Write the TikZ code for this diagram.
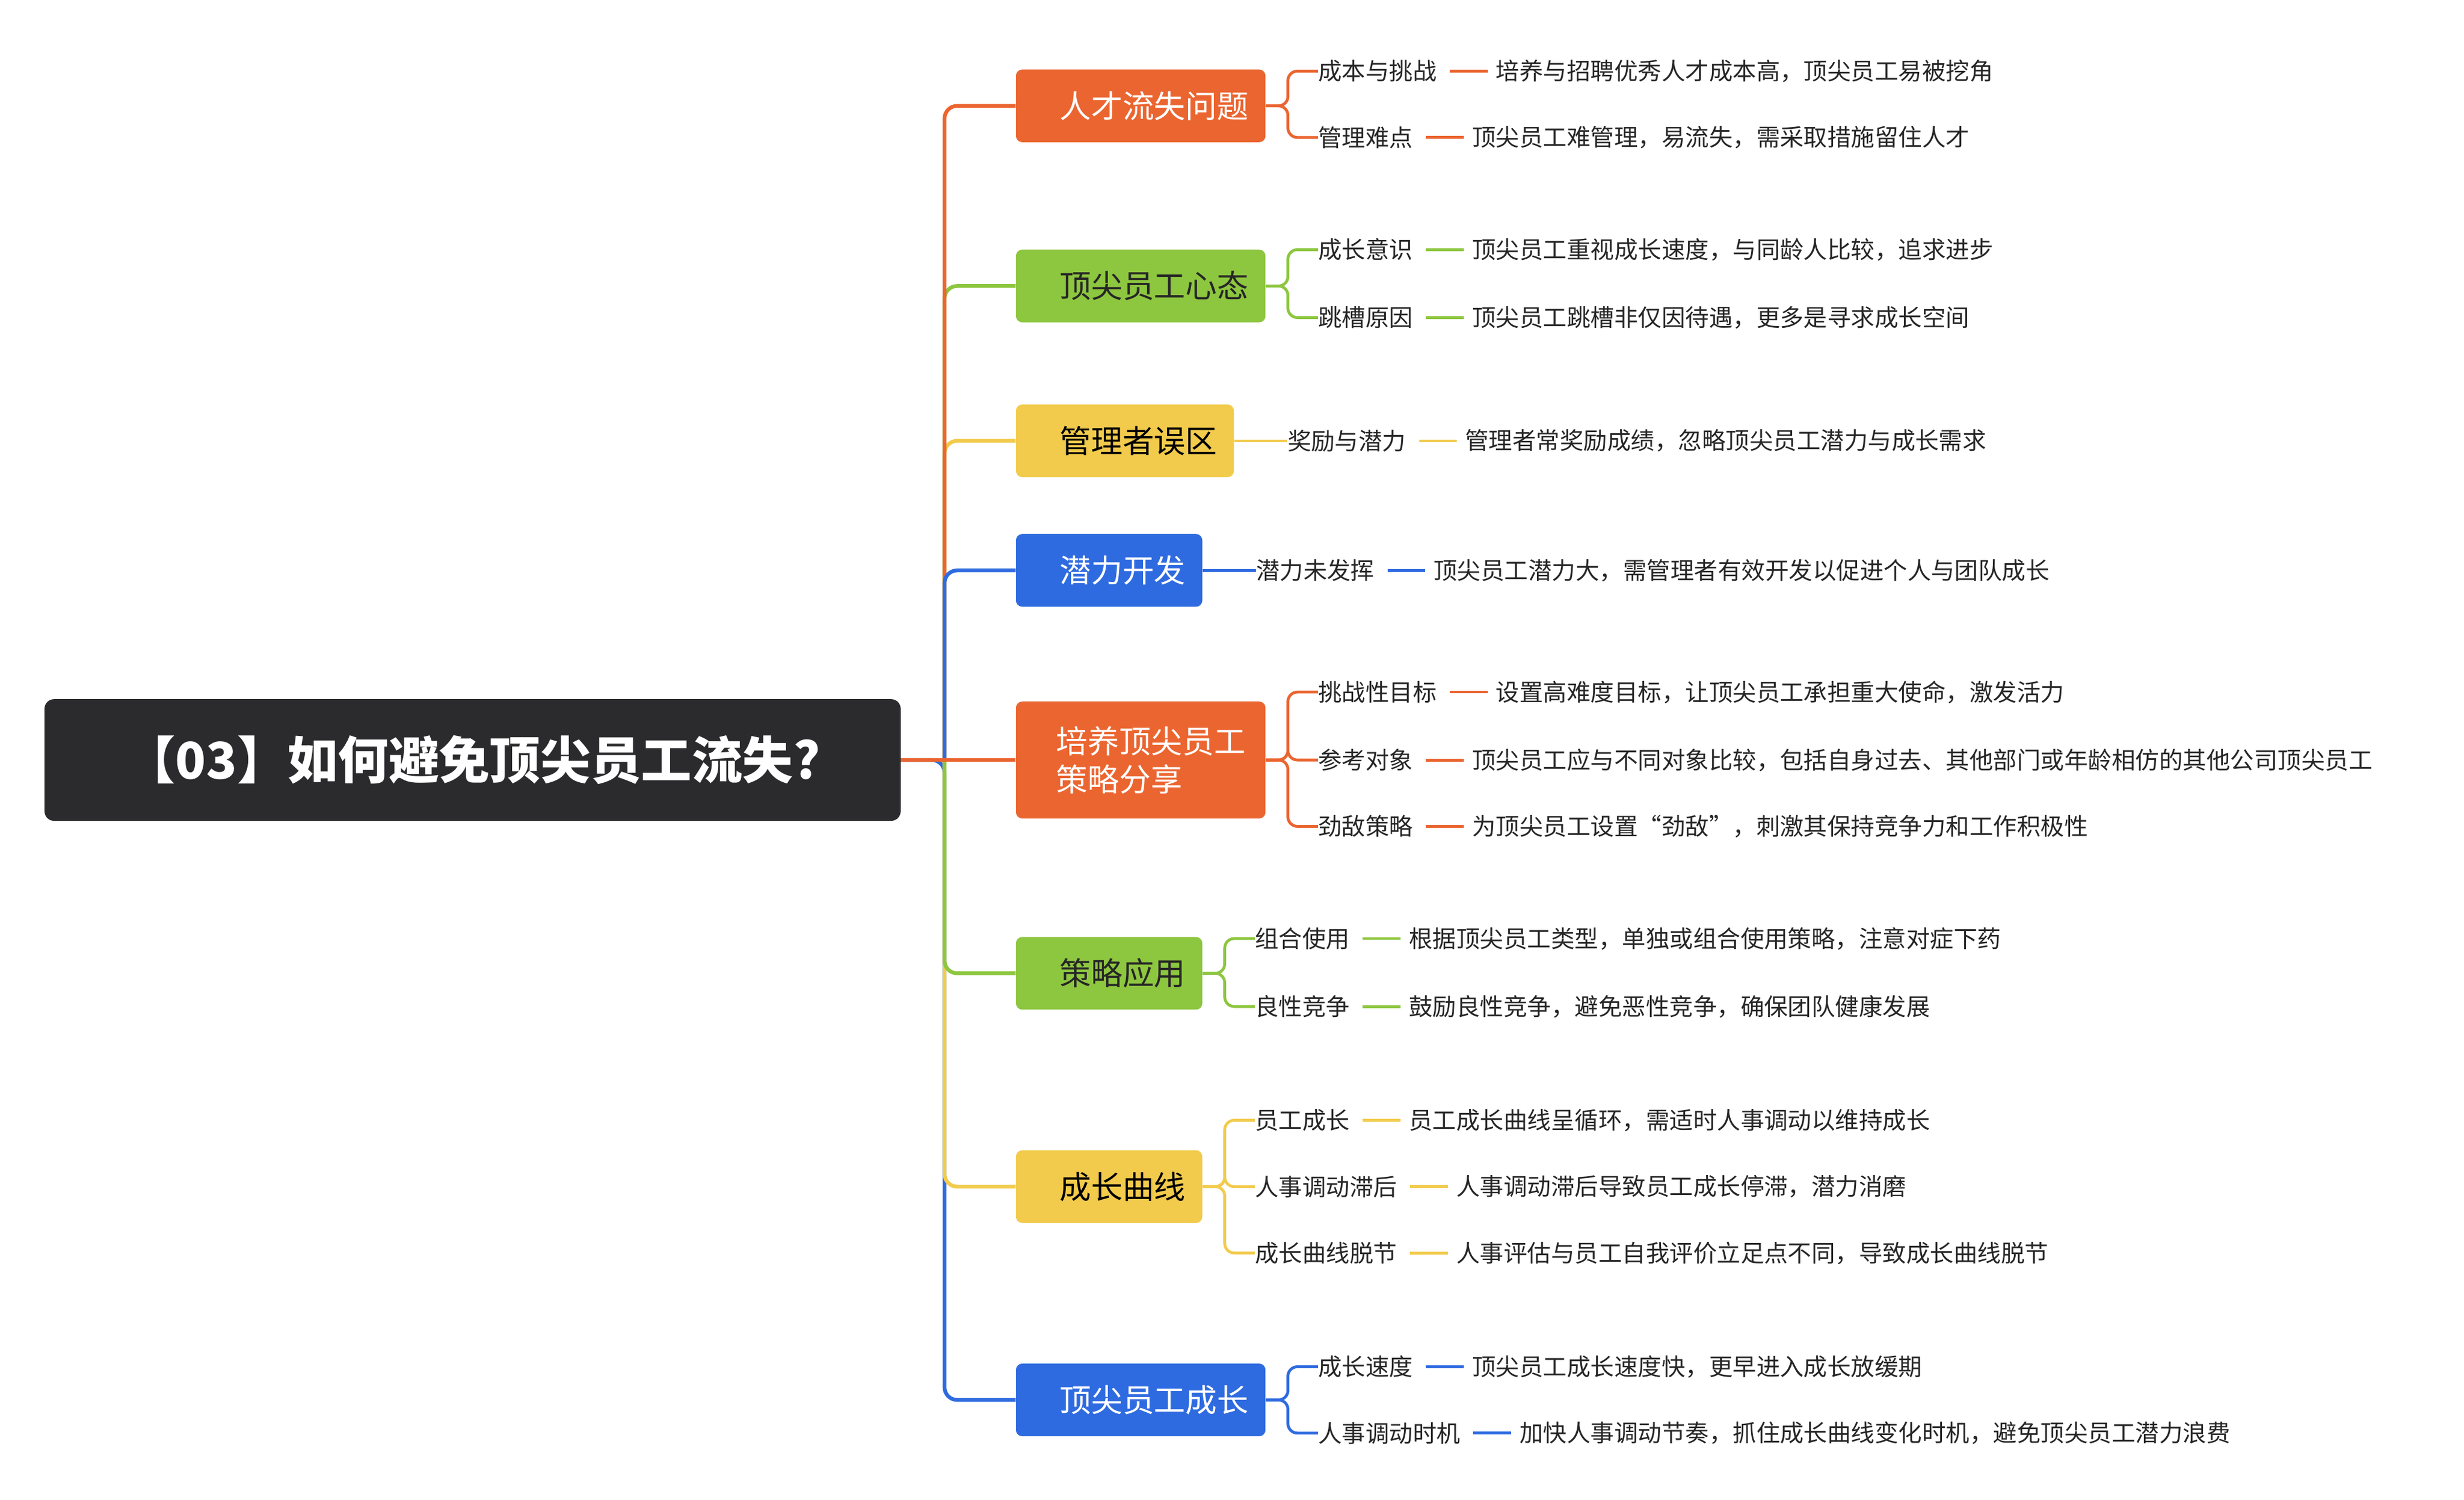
\documentclass[tikz,border=0pt]{standalone}
\usepackage{fontspec}
\newfontfamily\cjk{Noto Sans CJK SC}
\definecolor{cor}{HTML}{EB6530}
\definecolor{cgr}{HTML}{8DC63F}
\definecolor{cye}{HTML}{F2CB4C}
\definecolor{cbl}{HTML}{2F6BE0}
\definecolor{cdk}{HTML}{2B2B2E}
\tikzset{
  mbox/.style={rounded corners=4pt,inner sep=0pt,anchor=west,minimum height=46pt,font=\cjk\fontsize{20}{24}\selectfont,text=white,align=left},
  lbl/.style={anchor=west,inner sep=0pt,font=\cjk\fontsize{15}{18}\selectfont,text=black!85},
  wire/.style={line width=2.4pt,rounded corners=8pt},
  swire/.style={line width=1.8pt,rounded corners=6pt}
}
\newcommand{\mmsub}[6]{% name, parent, y, label, desc, color
  \path (#2.east) ++(33,0) coordinate (#1s);
  \node[lbl] (#1) at (#1s |- 0,#3) {#4};
  \draw[swire,#6] (#2.east) -- ++(14,0) |- (#1.west);
  \node[lbl] (#1d) at ([xshift=37]#1.east) {#5};
  \draw[swire,#6,rounded corners=0pt] ([xshift=8]#1.east) -- ([xshift=-5]#1d.west);
}
\begin{document}
\begin{tikzpicture}[x=1pt,y=-1pt]
\useasboundingbox (0,0) rectangle (1560,949);
\node[fill=cdk,rounded corners=6pt,minimum width=542pt,minimum height=77pt,anchor=west,text=white,font=\cjk\bfseries\fontsize{32}{36}\selectfont] (root) at (28,481) {【03】如何避免顶尖员工流失?};
\coordinate (tr) at (598,481);
% boxes
\node[mbox,fill=cor,minimum width=158pt] (b1) at (643,67) {\hspace{17pt}人才流失问题};
\node[mbox,fill=cgr,minimum width=158pt,text=black!85] (b2) at (643,181) {\hspace{17pt}顶尖员工心态};
\node[mbox,fill=cye,minimum width=138pt,text=black] (b3) at (643,279) {\hspace{17pt}管理者误区};
\node[mbox,fill=cbl,minimum width=118pt] (b4) at (643,361) {\hspace{17pt}潜力开发};
\node[mbox,fill=cor,minimum width=158pt,minimum height=74pt,text width=141pt,inner xsep=0pt,align=left] (b5) at (643,481) {\hspace*{17pt}培养顶尖员工\\\hspace*{17pt}策略分享};
\node[mbox,fill=cgr,minimum width=118pt,text=black!85] (b6) at (643,616) {\hspace{17pt}策略应用};
\node[mbox,fill=cye,minimum width=118pt,text=black] (b7) at (643,751) {\hspace{17pt}成长曲线};
\node[mbox,fill=cbl,minimum width=158pt] (b8) at (643,886) {\hspace{17pt}顶尖员工成长};
% trunk
\draw[wire,cbl] (root.east) -- (tr) |- (b8.west);
\draw[wire,cye] (tr) |- (b7.west);
\draw[wire,cgr] (tr) |- (b6.west);
\draw[wire,cye] (tr) |- (b3.west);
\draw[wire,cgr] (tr) |- (b2.west);
\draw[wire,cor] (tr) |- (b1.west);
\draw[wire,cbl] (tr) |- (b4.west);
\draw[wire,cor] (root.east) -- (b5.west);
% subs
\mmsub{s11}{b1}{45}{成本与挑战}{培养与招聘优秀人才成本高，顶尖员工易被挖角}{cor}
\mmsub{s12}{b1}{87}{管理难点}{顶尖员工难管理，易流失，需采取措施留住人才}{cor}
\mmsub{s21}{b2}{158}{成长意识}{顶尖员工重视成长速度，与同龄人比较，追求进步}{cgr}
\mmsub{s22}{b2}{201}{跳槽原因}{顶尖员工跳槽非仅因待遇，更多是寻求成长空间}{cgr}
\node[lbl] (s31) at (815,279) {奖励与潜力};
\draw[swire,cye] (b3.east) -- (s31.west);
\node[lbl] (s31d) at ([xshift=37]s31.east) {管理者常奖励成绩，忽略顶尖员工潜力与成长需求};
\draw[swire,cye] ([xshift=8]s31.east) -- ([xshift=-5]s31d.west);
\node[lbl] (s41) at (795,361) {潜力未发挥};
\draw[swire,cbl] (b4.east) -- (s41.west);
\node[lbl] (s41d) at ([xshift=37]s41.east) {顶尖员工潜力大，需管理者有效开发以促进个人与团队成长};
\draw[swire,cbl] ([xshift=8]s41.east) -- ([xshift=-5]s41d.west);
\mmsub{s51}{b5}{438}{挑战性目标}{设置高难度目标，让顶尖员工承担重大使命，激发活力}{cor}
\mmsub{s52}{b5}{481}{参考对象}{顶尖员工应与不同对象比较，包括自身过去、其他部门或年龄相仿的其他公司顶尖员工}{cor}
\mmsub{s53}{b5}{523}{劲敌策略}{为顶尖员工设置“劲敌”，刺激其保持竞争力和工作积极性}{cor}
\mmsub{s61}{b6}{594}{组合使用}{根据顶尖员工类型，单独或组合使用策略，注意对症下药}{cgr}
\mmsub{s62}{b6}{637}{良性竞争}{鼓励良性竞争，避免恶性竞争，确保团队健康发展}{cgr}
\mmsub{s71}{b7}{709}{员工成长}{员工成长曲线呈循环，需适时人事调动以维持成长}{cye}
\mmsub{s72}{b7}{751}{人事调动滞后}{人事调动滞后导致员工成长停滞，潜力消磨}{cye}
\mmsub{s73}{b7}{793}{成长曲线脱节}{人事评估与员工自我评价立足点不同，导致成长曲线脱节}{cye}
\mmsub{s81}{b8}{865}{成长速度}{顶尖员工成长速度快，更早进入成长放缓期}{cbl}
\mmsub{s82}{b8}{907}{人事调动时机}{加快人事调动节奏，抓住成长曲线变化时机，避免顶尖员工潜力浪费}{cbl}
\end{tikzpicture}
\end{document}
